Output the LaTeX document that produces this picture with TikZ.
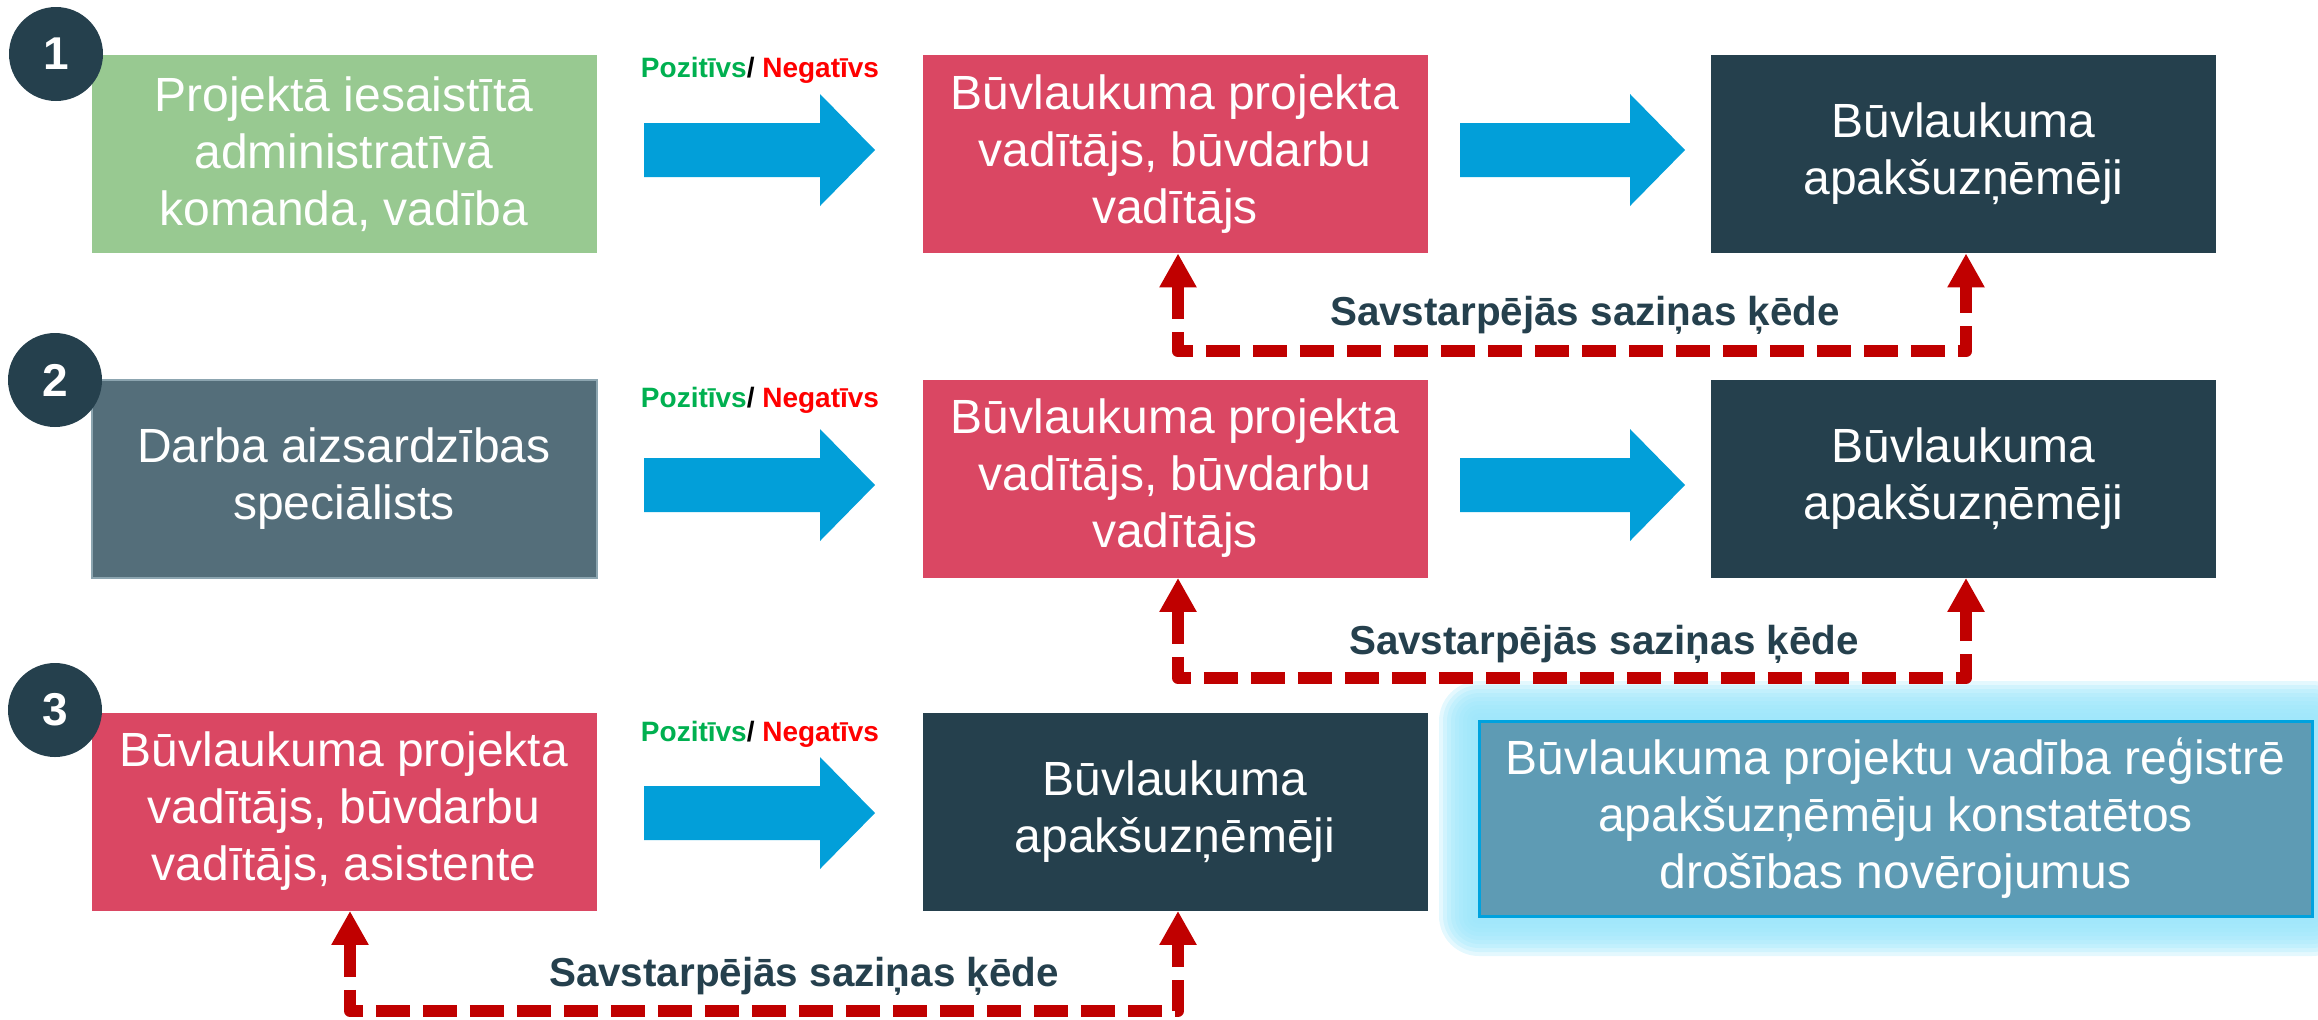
\documentclass[tikz,border=0pt]{standalone}
\usepackage{fontspec}
\setmainfont{Liberation Sans}
\usetikzlibrary{arrows.meta,calc}
\definecolor{navy}{HTML}{25404D}
\definecolor{greenbox}{HTML}{98C991}
\definecolor{redbox}{HTML}{DA4763}
\definecolor{graybox}{HTML}{546E7A}
\definecolor{grayedge}{HTML}{8CA5B0}
\definecolor{arrowblue}{HTML}{029FD9}
\definecolor{dashred}{HTML}{C00000}
\definecolor{bluebox}{HTML}{5E9BB4}
\definecolor{blueedge}{HTML}{00A2DE}
\definecolor{glow}{HTML}{9CE6FB}
\definecolor{tgreen}{HTML}{00B050}
\definecolor{tred}{HTML}{FF0000}
\newcommand\blockarrow[4]{\fill[arrowblue] (#1,#4-27) -- (#2,#4-27) -- (#2,#4-56) -- (#3,#4) -- (#2,#4+56) -- (#2,#4+27) -- (#1,#4+27) -- cycle;}
\begin{document}
\begin{tikzpicture}[x=0.5pt,y=-0.5pt,
  box/.style={rectangle, minimum width=252.5pt, minimum height=99pt, inner sep=0pt, align=center, text=white, font=\fontsize{24}{28.5}\selectfont},
  gbox/.style={box, fill=greenbox},
  rbox/.style={box, fill=redbox},
  dbox/.style={box, fill=navy},
  sbox/.style={box, fill=graybox, draw=grayedge, line width=1pt},
  numc/.style={circle, fill=navy, minimum size=47pt, inner sep=0pt, text=white, font=\fontsize{23}{23}\selectfont\bfseries},
  pn/.style={font=\fontsize{14}{14}\selectfont\bfseries, inner sep=0pt},
  lbl/.style={font=\fontsize{20.2}{20}\selectfont\bfseries, text=navy, inner sep=0pt},
  conn/.style={draw=dashred, line width=6pt, dash pattern=on 17pt off 6.5pt, line join=round, line cap=butt,
    {Triangle[length=17pt,width=17.5pt]}-{Triangle[length=17pt,width=17.5pt]}}
]
\useasboundingbox (0,0) rectangle (2318,1019);
% glow of the blue box
\foreach \d in {4,8,...,40}{
  \fill[glow, opacity=0.27, rounded corners=\d*0.5pt] (1479-\d,721-\d) rectangle (2312+\d,916+\d);
}
% row 1
\node[gbox] (g1) at (344,154) {Projektā iesaistītā\\administratīvā\\komanda, vadība};
\node[rbox] (red1) at (1175,154) {Būvlaukuma projekta\\vadītājs, būvdarbu\\vadītājs};
\node[dbox] (dark1) at (1963.5,154) {Būvlaukuma\\apakšuzņēmēji};
% row 2
\node[sbox] (s2) at (344,478.5) {Darba aizsardzības\\speciālists};
\node[rbox] (red2) at (1175,478.5) {Būvlaukuma projekta\\vadītājs, būvdarbu\\vadītājs};
\node[dbox] (dark2) at (1963.5,478.5) {Būvlaukuma\\apakšuzņēmēji};
% row 3
\node[rbox] (red3) at (344,811.5) {Būvlaukuma projekta\\vadītājs, būvdarbu\\vadītājs, asistente};
\node[dbox] (dark3) at (1175,811.5) {Būvlaukuma\\apakšuzņēmēji};
\node[box, fill=bluebox, draw=blueedge, line width=1.5pt, minimum width=416.5pt, minimum height=97.5pt] (blue) at (1895.5,818.5)
  {Būvlaukuma projektu vadība reģistrē\\apakšuzņēmēju konstatētos\\drošības novērojumus};
% block arrows
\blockarrow{644}{820}{875}{150}
\blockarrow{1460}{1630}{1685}{150}
\blockarrow{644}{820}{875}{485}
\blockarrow{1460}{1630}{1685}{485}
\blockarrow{644}{820}{875}{813}
% positive/negative labels
\node[pn] (pn1) at (760,70) {\textcolor{tgreen}{Pozitīvs}/ \textcolor{tred}{Negatīvs}};
\node[pn] (pn2) at (760,400) {\textcolor{tgreen}{Pozitīvs}/ \textcolor{tred}{Negatīvs}};
\node[pn] (pn3) at (760,734) {\textcolor{tgreen}{Pozitīvs}/ \textcolor{tred}{Negatīvs}};
% communication chains
\draw[conn] ([xshift=1.5pt]red1.south) -- ++(0,98) -| ([xshift=1.25pt]dark1.south);
\draw[conn] ([xshift=1.5pt]red2.south) -- ++(0,100) -| ([xshift=1.25pt]dark2.south);
\draw[conn] ([xshift=3pt]red3.south) -- ++(0,100) -| ([xshift=1.5pt]dark3.south);
\node[lbl] (l1) at (1585,315) {Savstarpējās saziņas ķēde};
\node[lbl] (l2) at (1604,644) {Savstarpējās saziņas ķēde};
\node[lbl] (l3) at (804,976) {Savstarpējās saziņas ķēde};
% number circles
\node[numc] (c1) at (56,54) {1};
\node[numc] (c2) at (55,380) {2};
\node[numc] (c3) at (55,710) {3};
\end{tikzpicture}
\end{document}
